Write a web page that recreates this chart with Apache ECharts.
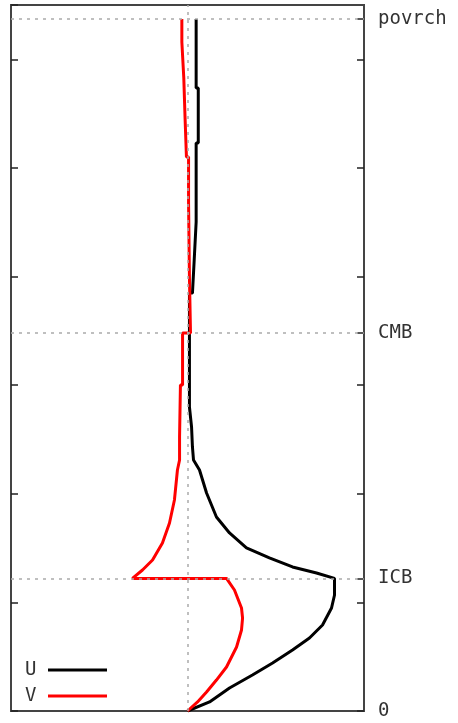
<!DOCTYPE html>
<html>
<head>
<meta charset="utf-8">
<script src="https://cdn.jsdelivr.net/npm/echarts@6/dist/echarts.min.js"></script>
<style>
  html, body { margin: 0; padding: 0; background: #fff; }
  #chart { width: 458px; height: 723px; }
</style>
</head>
<body>
<div id="chart"></div>
<script>
/* depth profile: radius in km (y) vs amplitude (x) */

// boundary labels on the right axis
var levelNames = ['0', 'ICB', 'CMB', 'povrch'];
var levelValues = [0, 1221, 3480, 6371];

// U (black) - amplitude and radius
var uAmp = [0.049, 0.049, 0.061, 0.061, 0.049, 0.049, 0.038, 0.038, 0.028, 0.028, 0.011, 0.011, 0.011,
            0.023, 0.028, 0.034, 0.034, 0.068, 0.108, 0.164, 0.238, 0.334, 0.464, 0.595, 0.731, 0.833,
            0.833, 0.816, 0.765, 0.691, 0.595, 0.482, 0.368, 0.238, 0.125, 0];
var uRad = [6371, 5736, 5736, 5229, 5229, 4502, 4502, 4152, 4152, 3848, 3848, 3480, 2799,
            2615, 2431, 2311, 2311, 2219, 2007, 1786, 1639, 1501, 1409, 1326, 1270, 1221,
            1068, 948, 792, 672, 562, 442, 331, 212, 83, 0];

// V (red)
var vAmp = [-0.032, -0.032, -0.021, -0.021, -0.014, -0.014, -0.006, -0.006, 0.006, 0.006, 0.011, 0.011, 0.017,
            -0.028, -0.028, -0.040, -0.045, -0.045, -0.057, -0.074, -0.102, -0.142, -0.198, -0.255, -0.312,
            0.221, 0.266, 0.306, 0.312, 0.306, 0.278, 0.221, 0.164, 0.108, 0.057, 0];
var vRad = [6371, 6159, 6159, 5828, 5828, 5469, 5469, 5100, 5100, 4677, 4677, 3996, 3480,
            3480, 3001, 3001, 2523, 2311, 2219, 1943, 1731, 1547, 1390, 1298, 1221,
            1221, 1114, 948, 856, 746, 589, 405, 285, 175, 83, 0];

function pairs(xs, ys) {
    var out = [];
    for (var i = 0; i < xs.length; i++) out.push([xs[i], ys[i]]);
    return out;
}

var font = '"DejaVu Sans Mono", monospace';
var chart = echarts.init(document.getElementById('chart'));

var option = {
    animation: false,
    backgroundColor: '#fff',
    grid: {
        left: 11, right: 94, top: 5, bottom: 12,
        show: true, borderColor: '#444', borderWidth: 2, backgroundColor: 'transparent'
    },
    legend: {
        orient: 'vertical',
        left: 20, top: 655,
        align: 'right',
        icon: 'rect',
        itemWidth: 59, itemHeight: 3,
        itemGap: 6,
        formatter: function (name) { return '{t|' + name + '}'; },
        textStyle: {
            fontFamily: font, fontSize: 19, color: '#333', lineHeight: 20,
            rich: { t: { width: 18, align: 'left', fontFamily: font, fontSize: 19, color: '#333' } }
        },
        data: ['U', 'V']
    },
    xAxis: {
        type: 'value', min: -1, max: 1,
        axisLine: { show: false }, axisTick: { show: false },
        axisLabel: { show: false }, splitLine: { show: false }
    },
    yAxis: [{
        type: 'value', min: 0, max: 6500, interval: 1000, position: 'left',
        axisLine: { show: false, onZero: false },
        axisTick: { show: true, inside: true, length: 7, lineStyle: { color: '#222', width: 1.5 } },
        axisLabel: { show: false }, splitLine: { show: false }
    }, {
        type: 'value', min: 0, max: 6500, position: 'right',
        axisLine: { show: false, onZero: false },
        axisTick: {
            show: true, inside: true, length: 7, lineStyle: { color: '#222', width: 1.5 },
            customValues: [0, 1000, 1221, 2000, 3000, 3480, 4000, 5000, 6000, 6371]
        },
        axisLabel: {
            show: true, margin: 14, color: '#333', fontFamily: font, fontSize: 19,
            customValues: levelValues,
            formatter: function (v) { return levelNames[levelValues.indexOf(v)]; }
        },
        splitLine: { show: false }
    }],
    series: [{
        name: 'U', type: 'line', showSymbol: false,
        lineStyle: { color: '#000', width: 3 }, itemStyle: { color: '#000' },
        data: pairs(uAmp, uRad),
        markLine: {
            silent: true, symbol: 'none', label: { show: false },
            lineStyle: { color: '#aaa', type: [3, 5], width: 1.5 },
            data: [{ xAxis: 0 }, { yAxis: 1221 }, { yAxis: 3480 }, { yAxis: 6371 }]
        },
        z: 3
    }, {
        name: 'V', type: 'line', showSymbol: false,
        lineStyle: { color: '#f00', width: 3 }, itemStyle: { color: '#f00' },
        data: pairs(vAmp, vRad),
        z: 4
    }]
};

chart.setOption(option);
</script>
</body>
</html>
